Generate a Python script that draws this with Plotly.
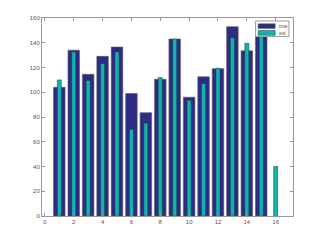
import plotly.graph_objects as go

series_names = ["true", "est"]
x_true = list(range(1, 16))
true_vals = [104, 134, 114.5, 129, 136.5, 99, 83.5, 110.5, 143, 96, 112.5, 119, 153, 133.5, 145]
x_est = list(range(1, 17))
est_vals = [110, 132.5, 109.5, 123, 132.5, 70, 75, 112, 143, 93.5, 107, 119.5, 144, 139.5, 145, 40]
x_ticks = [0, 2, 4, 6, 8, 10, 12, 14, 16]
y_ticks = [0, 20, 40, 60, 80, 100, 120, 140, 160]

colors = ["#2e2c82", "#10b4ae"]
edges = ["#5a5a6a", "#1a3a4a"]

fig = go.Figure()
fig.add_trace(go.Bar(x=x_true, y=true_vals, name=series_names[0], width=0.8,
                     marker=dict(color=colors[0], line=dict(color=edges[0], width=0.6))))
fig.add_trace(go.Bar(x=x_est, y=est_vals, name=series_names[1], width=0.28,
                     marker=dict(color=colors[1], line=dict(color=edges[1], width=0.5))))

axis_common = dict(showgrid=False, zeroline=False, showline=True, linecolor="#999999",
                   linewidth=1, mirror="ticks", ticks="inside", ticklen=3, automargin=False,
                   tickcolor="#999999", tickfont=dict(size=6, color="#555555",
                                                      family="Liberation Sans"))

# hand-drawn legend box (MATLAB style)
shapes = [dict(type="rect", xref="paper", yref="paper", x0=0.851, x1=0.984, y0=0.907, y1=0.985,
               line=dict(color="#999999", width=1), fillcolor="white", layer="above")]
annotations = []
for i, (name, yc) in enumerate(zip(series_names, [0.959, 0.925])):
    shapes.append(dict(type="rect", xref="paper", yref="paper", x0=0.861, x1=0.929,
                       y0=yc - 0.012, y1=yc + 0.012, fillcolor=colors[i],
                       line=dict(color=edges[i], width=0.5), layer="above"))
    annotations.append(dict(xref="paper", yref="paper", x=0.935, y=yc, text=name,
                            showarrow=False, xanchor="left", yanchor="middle",
                            font=dict(size=5, color="#555555", family="Liberation Sans")))

fig.update_layout(
    width=324, height=243,
    margin=dict(l=34, r=39, t=10, b=35),
    paper_bgcolor="white", plot_bgcolor="white",
    barmode="overlay",
    showlegend=False,
    shapes=shapes, annotations=annotations,
    xaxis=dict(range=[-0.2, 17.2], tickvals=x_ticks, ticktext=[str(t) for t in x_ticks],
               **axis_common),
    yaxis=dict(range=[0, 160], tickvals=y_ticks, ticktext=[str(t) for t in y_ticks],
               **axis_common),
)
fig.write_html("out.html")
